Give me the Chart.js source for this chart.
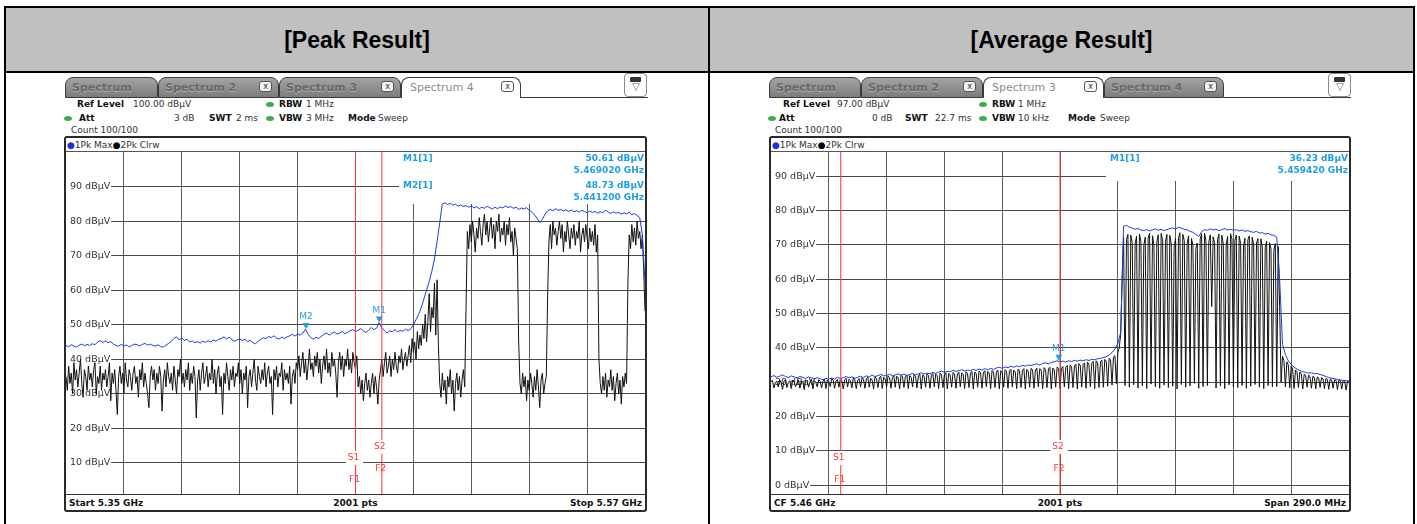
<!DOCTYPE html>
<html>
<head>
<meta charset="utf-8">
<script src="https://cdn.jsdelivr.net/npm/chart.js@4.4.1/dist/chart.umd.min.js"></script>
<style>
  body { margin: 0; width: 1417px; height: 524px; position: relative; overflow: hidden; background: #fff; font-family: "DejaVu Sans", sans-serif; }
  .line { position: absolute; background: #000; }
  .title { position: absolute; top: 8px; height: 63px; font: bold 23px "Liberation Sans", Arial, sans-serif; line-height: 64px; text-align: center; color: #000; }
  canvas { position: absolute; z-index: 2; }
</style>
</head>
<body>
<div style="position:absolute;left:6px;top:8px;width:1407px;height:63px;background:#c0c0c0"></div>
<div class="line" style="left:4px;top:6px;width:1411px;height:2px"></div>
<div class="line" style="left:4px;top:71px;width:1411px;height:2px"></div>
<div class="line" style="left:4px;top:6px;width:2px;height:518px"></div>
<div class="line" style="left:1413px;top:6px;width:2px;height:518px"></div>
<div class="line" style="left:708px;top:6px;width:2px;height:518px"></div>
<div class="title" style="left:6px;width:702px">[Peak Result]</div>
<div class="title" style="left:710px;width:703px">[Average Result]</div>

<canvas id="peakChart" width="579" height="342" style="left:66px;top:152px"></canvas>
<canvas id="avgChart" width="578" height="342" style="left:771px;top:152px"></canvas>

<script>
// ---- data ----

// sweep spans (GHz)
const peakSpan = [5.35, 5.57];
const avgSpan = [5.315, 5.605];

// level axis labels (dBuV)
const peakLevelTicks = [10, 20, 30, 40, 50, 60, 70, 80, 90];
const avgLevelTicks = [0, 10, 20, 30, 40, 50, 60, 70, 80, 90];
const peakLevelRange = [1, 100];
const avgLevelRange = [-2.6, 97];

// frequency lines F1 / F2 (GHz)
const peakLimitLines = [5.46, 5.47];
const avgLimitLines = [5.35, 5.46];

// markers
const peakMarkerNames = ['M1', 'M2'];
const peakMarkerFreqs = [5.46902, 5.4412];
const peakMarkerLevels = [50.61, 48.73];
const avgMarkerNames = ['M1'];
const avgMarkerFreqs = [5.45942];
const avgMarkerLevels = [36.23];

// trace 1 (Pk Max), peak result, 1 MHz steps
const peakMaxHold = [
  44.0, 43.6, 44.2, 43.8, 43.5, 44.1, 44.4, 43.9, 44.3, 44.0,
  44.5, 44.2, 45.0, 45.4, 44.9, 45.3, 44.8, 45.1, 44.4, 44.0,
  43.8, 44.3, 43.9, 44.1, 43.6, 44.0, 44.4, 44.2, 43.9, 44.3,
  44.6, 44.1, 44.4, 44.0, 43.8, 44.2, 43.7, 43.5, 44.1, 44.6,
  45.2, 46.0, 46.5, 45.6, 46.2, 45.4, 45.8, 45.0, 45.3, 44.8,
  45.1, 44.7, 45.2, 44.9, 45.4, 45.0, 45.6, 45.2, 45.8, 46.0,
  46.5, 45.9, 46.4, 45.7, 45.2, 45.6, 45.9, 45.4, 45.8, 45.1,
  45.5, 44.8, 44.5, 45.2, 45.8, 46.2, 46.0, 46.6, 46.3, 46.8,
  46.1, 45.9, 46.4, 46.0, 46.5, 46.8, 47.2, 46.7, 47.3, 47.0,
  47.6, 48.7, 47.2, 46.3, 45.8, 46.4, 46.0, 46.6, 47.2, 47.6,
  47.0, 47.5, 47.9, 47.3, 47.6, 48.1, 47.4, 47.8, 48.3, 48.6,
  48.0, 48.4, 48.9, 48.2, 47.7, 48.5, 49.2, 48.6, 49.0, 50.6,
  49.1, 48.3, 47.6, 48.2, 48.0, 48.6, 47.9, 48.4, 48.1, 48.7, 48.3, 48.8,
  50.0, 51.5, 53.0, 55.0, 57.5, 60.0, 62.5, 65.5, 69.0, 74.0, 79.5, 85.0,
  85.3, 84.8, 85.1, 84.6, 84.9, 84.3, 84.7, 84.2, 84.5, 84.0,
  84.4, 83.8, 84.2, 83.6, 84.0, 83.7, 84.3, 83.9, 83.5, 84.0,
  83.6, 84.1, 83.8, 84.4, 83.9, 84.2, 83.7, 84.0, 83.4, 83.8,
  83.5, 83.9, 83.2, 82.6, 81.8, 80.8, 79.6, 80.5, 82.0, 83.0,
  83.4, 83.0, 83.6, 83.1, 83.4, 82.9, 83.3, 82.8, 83.2, 82.7,
  83.0, 82.6, 83.1, 82.8, 82.4, 82.9, 82.5, 82.8, 82.3, 82.7,
  82.4, 83.2, 82.6, 82.2, 82.7, 82.3, 82.5, 82.0, 82.4, 82.1,
  82.6, 81.8, 82.2, 81.6, 81.0, 76.0, 62.0
];

// trace 2 (Pk Clrw), peak result, 0.5 MHz steps
const peakClrWrite = [
  35, 31, 38, 33, 36, 30, 39, 34, 37, 32,
  36, 40, 33, 29, 37, 35, 31, 38, 34, 36,
  32, 37, 39, 30, 35, 33, 38, 31, 36, 34,
  37, 32, 35, 39, 28, 36, 33, 37, 31, 24,
  35, 38, 33, 36, 30, 39, 34, 32, 37, 35,
  31, 36, 38, 33, 35, 29, 37, 34, 39, 32,
  36, 33, 30, 26, 35, 38, 34, 37, 31, 36,
  33, 38, 35, 25, 34, 37, 32, 39, 35, 33,
  36, 31, 38, 34, 30, 37, 35, 40, 33, 36,
  32, 37, 34, 39, 31, 36, 33, 38, 35, 23,
  34, 37, 31, 36, 39, 33, 35, 38, 32, 36,
  34, 40, 33, 37, 30, 36, 38, 32, 35, 24,
  36, 33, 39, 35, 31, 37, 34, 38, 32, 36,
  35, 39, 33, 37, 30, 36, 34, 38, 26, 35,
  37, 32, 36, 40, 34, 31, 38, 35, 33, 37,
  34, 39, 32, 36, 38, 33, 35, 24, 37, 34,
  38, 32, 36, 35, 39, 31, 37, 34, 36, 33,
  38, 27, 35, 37, 33, 39,
  37, 41, 35, 39, 42, 36, 40, 34, 38, 43,
  37, 39, 35, 41, 38, 42, 36, 40, 33, 38,
  41, 37, 43, 36, 39, 35, 42, 38, 40, 36,
  29, 39, 42, 37, 41, 35, 40, 38, 43, 37,
  40, 36, 42, 39, 37, 41,
  32, 35, 30, 34, 28, 33, 36, 31, 34, 29,
  33, 36, 30, 35, 32, 27, 34,
  37, 40, 35, 39, 42, 36, 38, 41, 35, 40,
  37, 42, 38, 36, 41, 39, 43, 37, 40, 42, 38,
  41, 44, 39, 46, 42, 45, 40, 48, 43, 47,
  44, 50, 46, 53, 45, 51, 59, 48, 55, 52,
  62, 47, 63, 44,
  33, 29, 36, 31, 34, 27, 35, 32, 37, 30,
  34, 25, 33, 36, 31, 35, 29, 34, 37, 32,
  55, 77, 72, 79, 74, 80, 76, 71, 78, 75,
  81, 77, 73, 79, 82, 76, 80, 74, 78, 81,
  75, 79, 72, 80, 77, 82, 74, 78, 76, 80,
  73, 79, 76, 81, 74, 77, 70, 78, 75, 72,
  45, 33, 30, 36, 32, 35, 28, 34, 31, 36,
  33, 29, 35, 31, 37, 32, 26, 34, 36, 30, 33, 35,
  58, 74, 79, 72, 80, 76, 78, 73, 77, 80,
  75, 79, 71, 77, 74, 80, 76, 72, 78, 75,
  79, 73, 77, 75, 80, 71, 76, 78, 74, 79,
  75, 72, 78, 74, 77, 73, 79, 71, 76,
  40, 33, 30, 35, 31, 36, 29, 34, 32, 37,
  31, 35, 28, 33, 36, 30, 34, 27, 35, 32, 36, 33,
  62, 76, 72, 79, 74, 78, 73, 80, 75, 77,
  72, 76, 66, 54
];

// trace 1 (Pk Max), average result, 1.45 MHz steps
const avgMaxHold = [
  31.5, 31.9, 31.4, 31.7, 32.1, 31.6, 31.3, 31.8, 31.5, 31.2,
  31.6, 31.4, 31.0, 31.5, 31.2, 30.9, 31.3, 31.0, 30.7, 31.1,
  30.8, 31.2, 30.9, 31.4, 31.0, 31.3, 31.6, 31.2, 31.5, 31.1,
  31.4, 31.7, 31.3, 31.8, 31.5, 32.0, 31.6, 31.9, 32.2, 31.8,
  31.9, 32.3, 31.8, 32.1, 32.4, 32.0, 32.3, 31.9, 32.2, 32.5,
  32.1, 32.4, 32.7, 32.3, 32.6, 32.4, 32.8, 32.5, 32.9, 33.2,
  32.8, 33.1, 33.0, 33.4, 33.1, 33.3, 33.6, 33.2, 33.5, 33.3,
  33.7, 33.4, 33.8, 33.5, 33.9, 33.6, 34.0, 33.7, 34.1, 34.3,
  34.0, 34.4, 34.2, 34.6, 34.3, 34.7, 34.5, 34.9, 34.6, 35.0,
  34.8, 35.1, 35.3, 35.0, 35.4, 35.6, 35.3, 35.7, 35.9, 36.2,
  35.9, 36.1, 35.8, 36.2, 36.0, 36.3, 36.1, 36.4, 36.2, 36.5,
  36.3, 36.6, 36.5, 36.8, 36.9, 37.1, 37.4, 37.9, 38.6, 39.6,
  41.2, 44.5, 75.4, 75.6, 75.1, 74.8, 74.5, 74.7, 74.3, 74.1,
  74.4, 74.0, 74.3, 74.6, 74.2, 74.5, 74.1, 74.4, 74.7, 74.9,
  74.6, 75.1, 74.8, 74.5, 74.3, 73.9, 73.6, 73.0, 72.4, 73.8,
  74.4, 74.2, 74.6, 74.3, 74.5, 74.1, 74.4, 74.7, 74.3, 74.5,
  74.2, 74.4, 74.0, 74.3, 73.9, 74.1, 73.8, 73.6, 73.9, 73.4,
  73.5, 73.1, 73.3, 72.9, 72.7, 72.2, 60.0, 41.0, 38.0, 36.2,
  35.1, 34.3, 33.8, 33.3, 33.0, 32.8, 32.6, 32.7, 32.4, 32.5,
  32.2, 32.0, 31.6, 31.3, 31.1, 31.0, 30.8, 30.6, 30.5, 30.4, 30.3
];

// trace 2 (Pk Clrw), average result, 0.725 MHz steps
const avgClrWrite = [
  30.1, 30.5, 28.3, 29.8, 30.3, 28.6, 30.6, 29.9, 27.9, 30.2, 30.7, 28.4,
  29.9, 30.4, 28.1, 30.5, 30.0, 28.7, 29.7, 30.6, 28.2, 30.3, 30.1, 27.8,
  30.6, 30.2, 28.5, 30.0, 30.8, 28.0, 30.4, 29.9, 28.6, 30.7, 30.3, 28.3,
  30.2, 30.9, 28.1, 30.6, 30.1, 28.7, 31.0, 30.5, 28.2, 30.3, 30.8, 28.5,
  30.9, 30.4, 28.0, 30.6, 31.1, 28.6, 30.8, 30.3, 28.3, 31.2, 30.7, 28.1,
  30.5, 31.0, 28.6, 31.3, 30.8, 28.2, 30.9, 31.4, 28.5, 31.1, 30.6, 28.0,
  31.5, 31.0, 28.4, 31.2, 31.7, 28.1, 31.4, 30.9, 28.6, 31.8, 31.3, 28.2,
  31.3, 31.9, 28.5, 31.7, 31.2, 28.0, 32.0, 31.5, 28.4, 31.6, 32.1, 28.1,
  31.9, 31.4, 28.6, 32.2, 31.7, 28.3, 31.8, 32.3, 28.0, 32.1, 31.6, 28.5,
  32.4, 31.9, 28.2, 32.0, 32.5, 28.6, 32.3, 31.8, 28.1, 32.6, 32.1, 28.4,
  32.2, 32.7, 28.0, 32.5, 32.0, 28.5, 32.8, 32.3, 28.2, 32.4, 32.9, 28.6,
  32.7, 32.2, 28.1, 33.0, 32.5, 28.4, 32.6, 33.1, 28.0, 32.9, 32.4, 28.5,
  33.2, 32.7, 28.2, 32.8, 33.3, 28.6, 33.1, 32.6, 28.1, 33.4, 32.9, 28.4,
  33.0, 33.5, 28.0, 33.3, 32.8, 28.5, 33.6, 33.1, 28.2, 33.2, 33.7, 28.6,
  33.5, 33.0, 28.1, 33.8, 33.3, 28.4, 33.4, 33.9, 28.0, 33.7, 33.2, 28.5,
  34.0, 33.5, 28.2, 33.6, 34.1, 28.6, 33.9, 33.4, 28.1, 34.2, 33.7, 28.4,
  33.8, 34.3, 28.0, 34.1, 33.6, 28.5, 34.4, 33.9, 28.2, 34.0, 34.5, 28.6,
  34.3, 34.8, 28.1, 35.0, 34.5, 28.4, 34.7, 35.2, 28.0, 35.4, 34.9, 28.5,
  35.1, 35.6, 28.2, 35.8, 35.3, 28.6, 35.5, 36.0, 28.1, 36.2, 35.7, 28.4,
  35.9, 36.4, 28.5, 36.6, 36.1, 28.8, 36.9, 36.5, 29.1, 37.3, 37.7, 29.5,
  38.5, 40.0,
  44.0, 60.0, 72.0,
  29.0, 71.5, 73.0, 28.5, 72.8, 70.6, 29.2, 70.2, 72.5, 28.3, 73.1, 71.0,
  28.9, 69.8, 72.2, 28.1, 71.9, 73.4, 29.4, 72.6, 69.9, 28.6, 70.7, 72.9,
  28.2, 73.3, 71.4, 29.1, 71.0, 73.0, 28.4, 72.7, 70.3, 28.8, 69.5, 71.8,
  28.0, 72.1, 73.5, 29.3, 73.0, 71.2, 28.5, 70.4, 72.6, 28.9, 71.8, 69.7,
  29.6, 68.9, 70.5, 28.2, 71.6, 73.2, 28.7, 73.4, 71.1, 29.0, 70.8, 72.9,
  52.0, 72.3, 70.6, 28.3, 71.5, 73.1, 28.9, 72.8, 70.2, 28.1, 70.0, 72.4,
  29.2, 73.2, 71.7, 28.6, 71.2, 72.8, 28.4, 72.5, 70.4, 29.0, 69.6, 71.9,
  28.2, 71.4, 72.6, 28.8, 72.2, 70.1, 29.3, 70.5, 71.8, 28.5, 71.7, 69.4,
  28.1, 69.2, 71.0, 29.0, 70.6, 68.8, 28.6, 68.4, 70.3, 28.7, 69.5, 52.0,
  30.0, 37.5, 36.2, 28.6, 35.9, 35.0, 28.3, 34.6, 33.8, 28.1, 33.5, 33.0,
  28.4, 32.9, 32.4, 28.0, 32.3, 31.9, 28.5, 32.0, 31.6, 28.2, 31.7, 31.4,
  28.0, 31.5, 31.2, 28.4, 31.3, 30.9, 28.1, 31.0, 30.8, 27.9, 30.9, 30.6,
  28.2, 30.7, 30.5, 27.8, 30.6, 30.4, 28.0, 30.5, 30.2, 27.7, 30.3, 29.8
];

// ---- screenshot chrome (tabs, settings lines, frame) ----
const body = document.body;
function box(css, html, parent) {
  const d = document.createElement('div');
  d.style.cssText = 'position:absolute;white-space:nowrap;' + css;
  if (html != null) d.innerHTML = html;
  (parent || body).appendChild(d);
  return d;
}

function chrome(p) {
  p.tabs.forEach(t => {
    const tab = box('left:' + t.x + 'px;top:77px;width:' + t.w + 'px;height:21px;box-sizing:border-box;' +
      'border:1px solid #3a3a3a;border-radius:8px 8px 0 0;' +
      (t.active ? 'border-bottom:none;background:#fff;' : 'background:linear-gradient(#a4a4a4,#7c7c7c);'));
    box('left:' + (t.active ? 8 : 6) + 'px;top:3px;font:' + (t.active ? '' : 'bold ') + '11px "DejaVu Sans";' +
      'color:' + (t.active ? '#8c8c8c' : '#686868') + ';' + (t.active ? '' : 'text-shadow:0 1px 0 #b0b0b0;'), t.label, tab);
    if (t.close) {
      box('right:6px;top:3px;width:13px;height:11px;box-sizing:border-box;border:1px solid #555;border-radius:3px;' +
        'background:' + (t.active ? '#fff' : '#f2f2f2') + ';font:8px "DejaVu Sans";line-height:9px;text-align:center;color:#333', 'x', tab);
    }
  });
  // line under the tabs and the small menu icon
  box('left:' + p.lineFrom + 'px;top:97px;width:' + (p.right - p.lineFrom) + 'px;height:1px;background:#3a3a3a');
  const icon = box('left:' + p.iconX + 'px;top:73px;width:23px;height:24px;box-sizing:border-box;border:1px solid #8a8a8a;border-radius:4px;background:#fff');
  box('left:5px;top:3px;width:11px;height:5px;background:#333;border-radius:1px', null, icon);
  box('left:4px;top:7px;width:14px;font:10px "DejaVu Sans";color:#555;text-align:center', '&#9661;', icon);

  // settings text
  p.items.forEach(it => {
    box('left:' + it[0] + 'px;top:' + (p.rows[it[1]] - 6) + 'px;font:' + (it[3] ? 'bold ' : '') + '9px "DejaVu Sans";line-height:12px;color:' + (it[3] ? '#111' : '#333'), it[2]);
  });
  p.dots.forEach(d => {
    box('left:' + (d[0] - 4) + 'px;top:' + (p.rows[d[1]] - 2) + 'px;width:8px;height:5px;border-radius:50%;background:#3fae4a');
  });

  // diagram frame
  box('left:' + p.frameX + 'px;top:136px;width:' + p.frameW + 'px;height:376px;box-sizing:border-box;border:2px solid #2a2a2a;border-radius:3px');
  const inL = p.frameX + 2, inW = p.frameW - 4;
  box('left:' + inL + 'px;top:151px;width:' + inW + 'px;height:1px;background:#555');
  box('left:' + inL + 'px;top:494px;width:' + inW + 'px;height:1px;background:#333');
  box('left:' + (inL + 1) + 'px;top:139px;font:9px "DejaVu Sans";line-height:12px;color:#333',
    '<span style="color:#1f2fe0">&#9679;</span>1Pk Max<span style="color:#000">&#9679;</span>2Pk Clrw');
  const ft = 'top:497px;font:bold 9px "DejaVu Sans";line-height:12px;color:#111;';
  box(ft + 'left:' + (inL + 3) + 'px', p.footer[0]);
  box(ft + 'left:' + inL + 'px;width:' + inW + 'px;text-align:center', p.footer[1]);
  box(ft + 'left:' + inL + 'px;width:' + (inW - 3) + 'px;text-align:right', p.footer[2]);
}

chrome({
  tabs: [
    { x: 65, w: 93, label: 'Spectrum' },
    { x: 158, w: 121, label: 'Spectrum 2', close: true },
    { x: 279, w: 122, label: 'Spectrum 3', close: true },
    { x: 401, w: 120, label: 'Spectrum 4', close: true, active: true }
  ],
  lineFrom: 521, right: 648, iconX: 624,
  rows: [104, 118, 130],
  items: [
    [77, 0, 'Ref Level', 1], [133, 0, '100.00 dBµV', 0], [279, 0, 'RBW', 1], [306, 0, '1 MHz', 0],
    [79, 1, 'Att', 1], [174, 1, '3 dB', 0], [209, 1, 'SWT', 1], [236, 1, '2 ms', 0],
    [279, 1, 'VBW', 1], [306, 1, '3 MHz', 0], [348, 1, 'Mode', 1], [378, 1, 'Sweep', 0],
    [71, 2, 'Count 100/100', 0]
  ],
  dots: [[270, 0], [68, 1], [270, 1]],
  frameX: 64, frameW: 583,
  footer: ['Start 5.35 GHz', '2001 pts', 'Stop 5.57 GHz']
});

chrome({
  tabs: [
    { x: 769, w: 92, label: 'Spectrum' },
    { x: 861, w: 122, label: 'Spectrum 2', close: true },
    { x: 983, w: 121, label: 'Spectrum 3', close: true, active: true },
    { x: 1104, w: 120, label: 'Spectrum 4', close: true }
  ],
  lineFrom: 1224, right: 1351, iconX: 1328,
  rows: [104, 118, 130],
  items: [
    [783, 0, 'Ref Level', 1], [837, 0, '97.00 dBµV', 0], [992, 0, 'RBW', 1], [1018, 0, '1 MHz', 0],
    [779, 1, 'Att', 1], [872, 1, '0 dB', 0], [905, 1, 'SWT', 1], [935, 1, '22.7 ms', 0],
    [992, 1, 'VBW', 1], [1018, 1, '10 kHz', 0], [1068, 1, 'Mode', 1], [1100, 1, 'Sweep', 0],
    [775, 2, 'Count 100/100', 0]
  ],
  dots: [[983, 0], [772, 1], [983, 1]],
  frameX: 769, frameW: 582,
  footer: ['CF 5.46 GHz', '2001 pts', 'Span 290.0 MHz']
});

// ---- the diagrams ----
const markerBlue = '#1e9ee4';
const lineRed = '#ff3434';

function spectrum(id, o) {
  const span = o.span;
  const xTicks = [];
  for (let k = 1; k < 10; k++) xTicks.push(span[0] + (span[1] - span[0]) * k / 10);
  const trace = vals => vals.map((v, i) => ({ x: span[0] + (span[1] - span[0]) * i / (vals.length - 1), y: v }));

  const overlay = {
    id: 'overlay',
    beforeDatasetsDraw(chart) {
      const ctx = chart.ctx, a = chart.chartArea, ys = chart.scales.y;
      ctx.save();
      ctx.textBaseline = 'middle';
      // level labels sit inside the grid
      ctx.font = '9.5px "DejaVu Sans"';
      o.levelTicks.forEach(v => {
        const py = ys.getPixelForValue(v), t = v + ' dBµV', w = ctx.measureText(t).width;
        ctx.fillStyle = '#fff';
        ctx.fillRect(a.left, py - 5, w + 5, 10);
        ctx.fillStyle = '#333';
        ctx.fillText(t, a.left + 4, py);
      });
      // marker readout in the top right corner
      ctx.fillStyle = '#fff';
      ctx.fillRect(o.boxLeft, a.top, a.right - o.boxLeft, o.boxHeight);
      ctx.font = 'bold 9px "DejaVu Sans"';
      ctx.fillStyle = markerBlue;
      o.markers.names.forEach((n, i) => {
        const y0 = a.top + 7 + i * 27;
        ctx.textAlign = 'left';
        ctx.fillText(n + '[1]', o.boxLeft + 4, y0);
        ctx.textAlign = 'right';
        ctx.fillText(o.markers.levels[i].toFixed(2) + ' dBµV', a.right - 1, y0);
        ctx.fillText(o.markers.freqs[i].toFixed(6) + ' GHz', a.right - 1, y0 + 12);
      });
      ctx.restore();
    },
    afterDatasetsDraw(chart) {
      const ctx = chart.ctx, xs = chart.scales.x, ys = chart.scales.y;
      ctx.save();
      ctx.textAlign = 'center';
      ctx.textBaseline = 'middle';
      ctx.font = '9px "DejaVu Sans"';
      // S / F labels on the frequency lines
      o.limits.forEach((f, i) => {
        const px = xs.getPixelForValue(f);
        const sy = o.limitLabelY[i][0], fy = o.limitLabelY[i][1];
        const sw = ctx.measureText('S' + (i + 1)).width;
        ctx.fillStyle = '#fff';
        ctx.fillRect(px - sw / 2 - 4, sy - 7, sw + 6, 14);
        ctx.fillStyle = lineRed;
        ctx.fillText('S' + (i + 1), px - 2, sy);
        ctx.fillText('F' + (i + 1), px - 1, fy);
      });
      // marker triangles
      o.markers.names.forEach((n, i) => {
        const px = xs.getPixelForValue(o.markers.freqs[i]);
        const py = ys.getPixelForValue(o.markers.levels[i]);
        ctx.fillStyle = markerBlue;
        ctx.beginPath();
        ctx.moveTo(px, py);
        ctx.lineTo(px - 3.5, py - 6);
        ctx.lineTo(px + 3.5, py - 6);
        ctx.closePath();
        ctx.fill();
        ctx.fillText(n, px, py - 12);
      });
      ctx.restore();
    }
  };

  return new Chart(document.getElementById(id), {
    type: 'line',
    data: {
      datasets: [
        ...o.limits.map(f => ({ data: [{ x: f, y: o.range[0] }, { x: f, y: o.range[1] }], borderColor: lineRed, borderWidth: 1 })),
        { label: '1Pk Max', data: trace(o.maxHold), borderColor: '#2236f0', borderWidth: 1 },
        { label: '2Pk Clrw', data: trace(o.clrWrite), borderColor: '#111', borderWidth: 1 }
      ]
    },
    options: {
      responsive: false,
      animation: false,
      events: [],
      layout: { padding: 0 },
      elements: { point: { radius: 0 }, line: { tension: 0 } },
      plugins: { legend: { display: false }, tooltip: { enabled: false } },
      scales: {
        x: {
          type: 'linear', min: span[0], max: span[1],
          ticks: { display: false },
          grid: { color: '#5c5c5c', lineWidth: 1, drawTicks: false },
          border: { display: false },
          afterBuildTicks: s => { s.ticks = xTicks.map(v => ({ value: v })); }
        },
        y: {
          min: o.range[0], max: o.range[1],
          ticks: { display: false },
          grid: { color: '#4a4a4a', lineWidth: 1, drawTicks: false },
          border: { display: false },
          afterBuildTicks: s => { s.ticks = o.levelTicks.map(v => ({ value: v })); }
        }
      }
    },
    plugins: [overlay]
  });
}

spectrum('peakChart', {
  span: peakSpan, range: peakLevelRange, levelTicks: peakLevelTicks,
  maxHold: peakMaxHold, clrWrite: peakClrWrite,
  limits: peakLimitLines, limitLabelY: [[306, 328], [295, 317]],
  markers: { names: peakMarkerNames, freqs: peakMarkerFreqs, levels: peakMarkerLevels },
  boxLeft: 333, boxHeight: 52
});

spectrum('avgChart', {
  span: avgSpan, range: avgLevelRange, levelTicks: avgLevelTicks,
  maxHold: avgMaxHold, clrWrite: avgClrWrite,
  limits: avgLimitLines, limitLabelY: [[306, 328], [295, 317]],
  markers: { names: avgMarkerNames, freqs: avgMarkerFreqs, levels: avgMarkerLevels },
  boxLeft: 335, boxHeight: 29
});
</script>
</body>
</html>
